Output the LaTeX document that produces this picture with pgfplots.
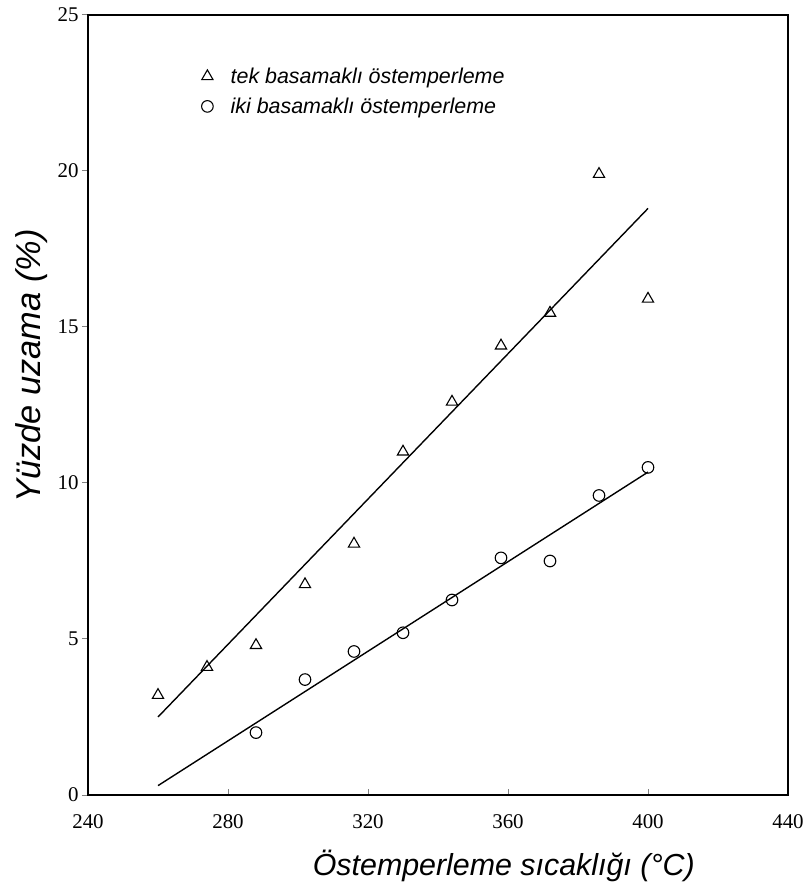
\documentclass[border=0pt]{standalone}
\usepackage{fontspec}
\setmainfont{Liberation Serif}
\newfontfamily\lab{Liberation Sans}
\usepackage{pgfplots}
\pgfplotsset{compat=1.18}

\begin{document}
\begin{tikzpicture}
\begin{axis}[
  scale only axis, width=700bp, height=780bp,
  xmin=240, xmax=440, ymin=0, ymax=25,
  xtick={240,280,...,440}, ytick={0,5,...,25},
  axis line style={line width=1.5pt},
  xtick pos=bottom, ytick pos=left,
  major tick length=6bp,
  tick style={line width=1pt},
  ytick align=outside, xtick align=inside,
  tick label style={font=\fontsize{21}{24}\selectfont},
  /pgf/number format/assume math mode=true,
  xticklabel style={yshift=-16bp},
  xlabel={\lab\itshape Östemperleme sıcaklığı (°C)},
  ylabel={\lab\itshape Yüzde uzama (\%)},
  xlabel style={font=\fontsize{30.5}{34}\selectfont,
    at={(axis description cs:0.594,-0.1026)}, anchor=base},
  ylabel style={font=\fontsize{34.5}{38}\selectfont,
    at={(axis description cs:-0.052,0.55)}, anchor=south},
  legend style={draw=none, fill=none, inner sep=0pt, at={(0.162,0.935)}, anchor=north west,
    font=\lab\itshape\fontsize{21.5}{25}\selectfont, row sep=9bp},
  legend cell align=left,
  legend image code/.code={\path[draw=none] (0cm,0cm) -- (0.75cm,0cm);
    \draw[#1] plot coordinates {(0cm,0cm)};},
]
\addplot[only marks, mark=triangle, mark size=6.5bp, mark options={line width=1.1pt}]
  coordinates {(260,3.2)(274,4.1)(288,4.8)(302,6.75)(316,8.05)(330,11.0)
               (344,12.6)(358,14.4)(372,15.45)(386,19.9)(400,15.9)};
\addlegendentry{tek basamaklı östemperleme}
\addplot[only marks, mark=o, mark size=5.8bp, mark options={line width=1.1pt}]
  coordinates {(288,2.0)(302,3.7)(316,4.6)(330,5.2)(344,6.25)(358,7.6)
               (372,7.5)(386,9.6)(400,10.5)};
\addlegendentry{iki basamaklı östemperleme}
\addplot[forget plot, line width=1.4pt] coordinates {(260,2.5)(400,18.8)};
\addplot[forget plot, line width=1.4pt] coordinates {(260,0.3)(400,10.35)};
\end{axis}
\path ([shift={(-88bp,-93bp)}]current axis.south west) ([shift={(18bp,15bp)}]current axis.north east);
\end{tikzpicture}
\end{document}
